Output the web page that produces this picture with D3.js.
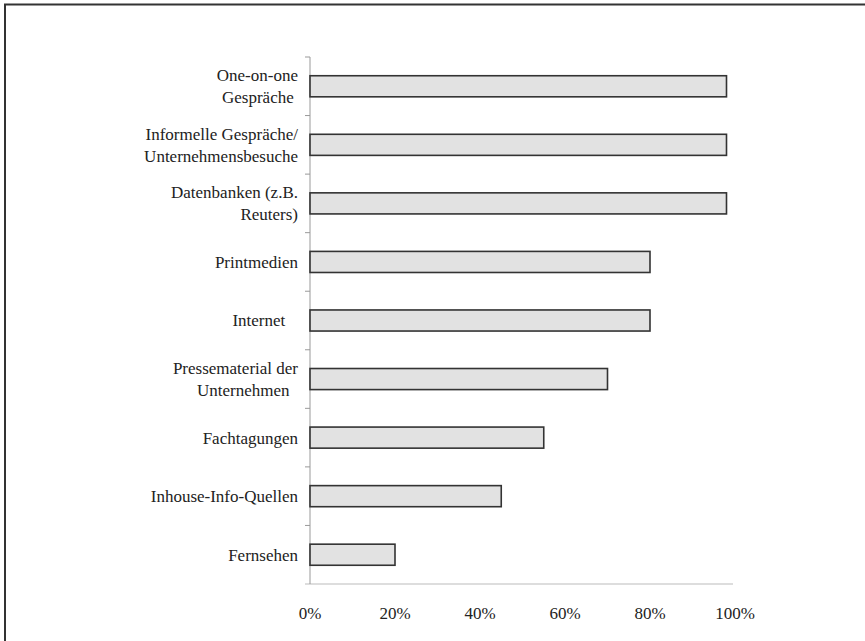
<!DOCTYPE html>
<html>
<head>
<meta charset="utf-8">
<script src="https://cdn.jsdelivr.net/npm/d3@7"></script>
<style>
  body { margin: 0; background: #fff; }
  text { font-family: "Liberation Serif", "Times New Roman", serif; fill: #222; white-space: pre; }
</style>
</head>
<body>
<script>
"use strict";

// categories (top to bottom), each as its printed lines
var categories = [
    ["One-on-one", "Gespräche "],
    ["Informelle Gespräche/", "Unternehmensbesuche"],
    ["Datenbanken (z.B.", "Reuters)"],
    ["Printmedien"],
    ["Internet   "],
    ["Pressematerial der", "Unternehmen  "],
    ["Fachtagungen"],
    ["Inhouse-Info-Quellen"],
    ["Fernsehen"]
];
var values = [98, 98, 98, 80, 80, 70, 55, 45, 20];
var xTicks = [0, 20, 40, 60, 80, 100];

var width = 865,
    height = 641,
    margin = { top: 57, right: 130, bottom: 57, left: 310 };

var svg = d3.select("body").append("svg")
    .attr("width", width)
    .attr("height", height);

// outer frame
svg.append("rect")
    .attr("x", 5).attr("y", 4.5)
    .attr("width", width + 10).attr("height", height + 10)
    .attr("fill", "none")
    .attr("stroke", "#333")
    .attr("stroke-width", 2);

var x = d3.scaleLinear()
    .domain([0, 100])
    .range([margin.left, margin.left + 425]);

var y = d3.scaleBand()
    .domain(d3.range(categories.length))
    .range([margin.top, height - margin.bottom])
    .paddingInner(0.64)
    .paddingOuter(0.32);

var step = y.step();
var plotBottom = height - margin.bottom;

// bottom axis line (light)
svg.append("line")
    .attr("x1", margin.left - 5).attr("x2", x(100) - 2)
    .attr("y1", plotBottom).attr("y2", plotBottom)
    .attr("stroke", "#bbb")
    .attr("stroke-width", 1.2);

// vertical axis with ticks at the band boundaries
svg.append("line")
    .attr("x1", margin.left).attr("x2", margin.left)
    .attr("y1", margin.top).attr("y2", plotBottom)
    .attr("stroke", "#999")
    .attr("stroke-width", 1);

svg.append("g").selectAll("line")
    .data(d3.range(categories.length))
    .enter().append("line")
    .attr("x1", margin.left - 5).attr("x2", margin.left)
    .attr("y1", function (d) { return margin.top + d * step; })
    .attr("y2", function (d) { return margin.top + d * step; })
    .attr("stroke", "#999");

// bars
svg.append("g").selectAll("rect")
    .data(values)
    .enter().append("rect")
    .attr("x", x(0))
    .attr("y", function (d, i) { return y(i); })
    .attr("width", function (d) { return x(d) - x(0); })
    .attr("height", y.bandwidth())
    .attr("fill", "#e2e2e2")
    .attr("stroke", "#333")
    .attr("stroke-width", 1.6);

// category labels
var lineH = 22;
svg.append("g").selectAll("text")
    .data(categories)
    .enter().append("text")
    .attr("text-anchor", "end")
    .style("font-size", "17px")
    .attr("y", function (d, i) { return y(i) + y.bandwidth() / 2; })
    .each(function (d) {
        var t = d3.select(this);
        var y0 = +t.attr("y") - (d.length - 1) * lineH / 2;
        d.forEach(function (line, k) {
            t.append("tspan")
                .attr("x", 298)
                .attr("y", y0 + k * lineH)
                .attr("dy", "0.35em")
                .text(line);
        });
    });

// x tick labels
svg.append("g").selectAll("text")
    .data(xTicks)
    .enter().append("text")
    .attr("x", function (d) { return x(d); })
    .attr("y", plotBottom + 29)
    .attr("dy", "0.35em")
    .attr("text-anchor", "middle")
    .style("font-size", "17px")
    .text(function (d) { return d + "%"; });
</script>
</body>
</html>
